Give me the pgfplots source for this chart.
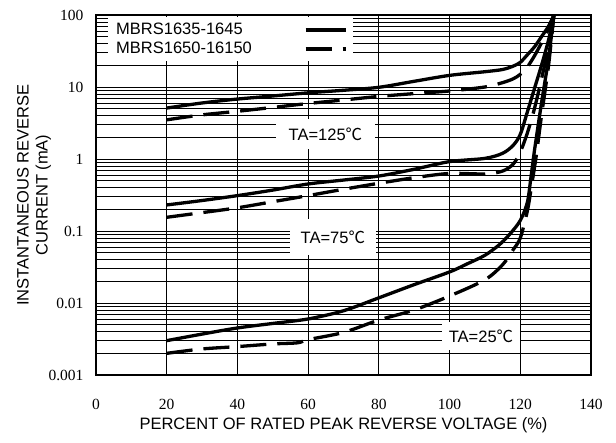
\documentclass[border=0pt]{standalone}
\usepackage{fontspec}
\setmainfont{Liberation Serif}
\setsansfont{Liberation Sans}
\newfontfamily\cjk{Noto Sans CJK SC}
\usepackage{pgfplots}
\usepackage{pgfplotstable}
\pgfplotsset{compat=1.18}

% 125 C
\pgfplotstableread{
x y
20 5.1
30 6.0
40 6.8
50 7.5
60 8.3
70 9.0
80 9.9
90 12.0
100 14.5
110 16.3
115 17.5
118 19.5
120 22
122 28
124 36
126 50
128 70
129.5 100
}\hotA
\pgfplotstableread{
x y
20 3.5
30 4.1
40 4.6
50 5.2
60 5.9
70 6.6
80 7.4
90 8.1
100 8.8
110 10
115 11.5
118 13
120 15
122 19
124 27
126 41
128 64
129.5 100
}\hotB
% 75 C
\pgfplotstableread{
x y
20 0.23
30 0.265
40 0.31
50 0.37
60 0.45
70 0.51
80 0.58
90 0.72
100 0.92
110 1.02
115 1.2
118 1.55
120 2.2
122 4.5
124 9.5
126 20
128 45
129.5 100
}\midA
\pgfplotstableread{
x y
20 0.155
30 0.18
40 0.21
50 0.255
60 0.31
70 0.38
80 0.46
90 0.55
100 0.63
110 0.62
115 0.68
118 0.85
120 1.25
122 2.3
124 5
126 13
128 35
129.5 100
}\midB
% 25 C
\pgfplotstableread{
x y
20 0.003
30 0.0037
40 0.0045
50 0.0052
60 0.006
70 0.0078
80 0.0118
90 0.018
100 0.027
105 0.035
110 0.046
114 0.064
117 0.09
120 0.14
122 0.25
123 0.55
124 1.3
126 6
128 25
129.5 100
}\lowA
\pgfplotstableread{
x y
20 0.002
30 0.0023
40 0.00248
50 0.0027
57 0.0028
60 0.0031
70 0.0039
80 0.0058
90 0.008
100 0.0125
110 0.021
115 0.034
118 0.055
120 0.08
122 0.19
123.3 0.46
124.5 1.1
126 4
128 20
129.5 100
}\lowB

\begin{document}
\begin{tikzpicture}
\begin{axis}[name=ax, scale only axis, width=495pt, height=360pt,
  xmin=0, xmax=140, ymode=log, ymin=0.001, ymax=100,
  xtick={0,20,40,60,80,100,120,140},
  ytick={0.001,0.01,0.1,1,10,100},
  yticklabels={0.001,0.01,0.1,1,10,100},
  minor ytick={0.002,0.003,0.004,0.005,0.006,0.007,0.008,0.009,
    0.02,0.03,0.04,0.05,0.06,0.07,0.08,0.09,
    0.2,0.3,0.4,0.5,0.6,0.7,0.8,0.9,
    2,3,4,5,6,7,8,9,20,30,40,50,60,70,80,90},
  grid=both,
  major grid style={black, line width=0.8pt},
  minor grid style={black, line width=0.5pt},
  major tick length=0pt, minor tick length=0pt,
  axis line style={black, line width=1.2pt},
  /pgf/number format/assume math mode=true,
  tick label style={font=\rmfamily\fontsize{15.5}{18}\selectfont},
  xticklabel style={anchor=center, yshift=-29pt},
  yticklabel style={anchor=east, xshift=-9pt},
  xlabel={PERCENT OF RATED PEAK REVERSE VOLTAGE (\%)},
  ylabel={INSTANTANEOUS REVERSE\\CURRENT (mA)},
  label style={font=\sffamily\fontsize{16.5}{19}\selectfont},
  xlabel style={at={(axis description cs:0.5,-0.139)}, anchor=center},
  ylabel style={at={(axis description cs:-0.125,0.5)}, anchor=center, align=center},
  legend style={at={(axis description cs:0.0242,0.994)}, anchor=north west,
    draw=none, fill=white, font=\sffamily\fontsize{16.5}{19}\selectfont,
    column sep=50pt, row sep=2pt, inner xsep=6pt, inner ysep=4pt},
  legend cell align=left, legend plot pos=right,
  legend image code/.code={\draw[#1] (0pt,0pt) -- (40pt,0pt);},
  solidc/.style={black, line width=3.3pt, smooth},
  dashc/.style={black, line width=3.3pt, smooth, dash pattern=on 26pt off 11pt},
]
\addplot[solidc] table {\hotA};
\addlegendentry{MBRS1635-1645}
\addplot[dashc] table {\hotB};
\addlegendentry{MBRS1650-16150}
\addplot[solidc, forget plot] table {\midA};
\addplot[dashc, forget plot] table {\midB};
\addplot[solidc, forget plot] table {\lowA};
\addplot[dashc, forget plot] table {\lowB};

\node[fill=white, minimum width=99pt, minimum height=30pt, inner sep=0pt,
  font=\sffamily\fontsize{16.5}{19}\selectfont] at (axis cs:64.9,2.22) {TA=125{\cjk ℃}};
\node[fill=white, minimum width=86pt, minimum height=36pt, inner sep=0pt,
  font=\sffamily\fontsize{16.5}{19}\selectfont] at (axis cs:67.0,0.0826) {TA=75{\cjk ℃}};
\node[fill=white, minimum width=78pt, minimum height=28pt, inner sep=0pt,
  font=\sffamily\fontsize{16.5}{19}\selectfont] at (axis cs:108.9,0.00348) {TA=25{\cjk ℃}};
\end{axis}
\pgfresetboundingbox
\path ([shift={(-96pt,-68pt)}]ax.south west) rectangle ([shift={(25pt,15pt)}]ax.north east);
\end{tikzpicture}
\end{document}
